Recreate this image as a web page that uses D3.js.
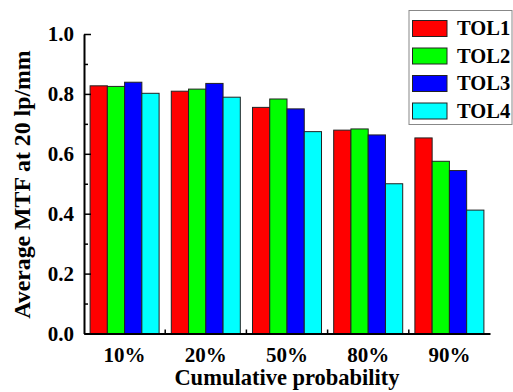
<!DOCTYPE html>
<html>
<head>
<meta charset="utf-8">
<script src="https://cdn.jsdelivr.net/npm/d3@7"></script>
<style>
  html, body { margin: 0; padding: 0; background: #fff; }
  svg { display: block; }
  text { font-family: "Liberation Serif", "Times New Roman", serif; font-weight: bold; fill: #000; }
</style>
</head>
<body>
<svg id="chart" width="513" height="392"></svg>
<script>
// Cumulative-probability groups and average MTF per tolerance set
const categories = ["10%", "20%", "50%", "80%", "90%"];
const seriesNames = ["TOL1", "TOL2", "TOL3", "TOL4"];
const tol1 = [0.827, 0.809, 0.755, 0.679, 0.653];
const tol2 = [0.825, 0.816, 0.783, 0.683, 0.575];
const tol3 = [0.839, 0.835, 0.750, 0.663, 0.544];
const tol4 = [0.802, 0.789, 0.674, 0.500, 0.412];
const seriesColors = ["#ff0000", "#00ff00", "#0000ff", "#00ffff"];
const yTicks = [0.0, 0.2, 0.4, 0.6, 0.8, 1.0];
const yMinorTicks = [0.1, 0.3, 0.5, 0.7, 0.9];

const series = [tol1, tol2, tol3, tol4];

const svg = d3.select("#chart");
const plot = { left: 84, right: 490, top: 34, bottom: 333.5 };

const x0 = d3.scaleBand().domain(categories).range([plot.left, plot.right])
  .paddingInner(0.15).paddingOuter(0.075);
const x1 = d3.scaleBand().domain(seriesNames).range([0, x0.bandwidth()]);
const y = d3.scaleLinear().domain([0, 1]).range([plot.bottom, plot.top]);

// Bars
const groups = svg.append("g").selectAll("g")
  .data(categories)
  .join("g")
  .attr("transform", d => `translate(${x0(d)},0)`);

groups.selectAll("rect")
  .data((c, i) => seriesNames.map((s, k) => ({ s, k, v: series[k][i] })))
  .join("rect")
  .attr("x", d => x1(d.s))
  .attr("y", d => y(d.v))
  .attr("width", x1.bandwidth())
  .attr("height", d => y(0) - y(d.v))
  .attr("fill", d => seriesColors[d.k])
  .attr("stroke", "#222")
  .attr("stroke-width", 1);

// Y axis with inward ticks
const yAxis = d3.axisLeft(y).tickValues(yTicks).tickFormat(d3.format(".1f"))
  .tickSizeInner(-7).tickSizeOuter(0).tickPadding(10);
const yg = svg.append("g").attr("transform", `translate(${plot.left},0)`).call(yAxis);
yg.select(".domain").attr("stroke", "#000").attr("stroke-width", 2);
yg.selectAll(".tick line").attr("stroke", "#000").attr("stroke-width", 1.5);
yg.selectAll(".tick text").attr("font-size", 21).attr("x", -10)
  .style("font-family", "Liberation Serif, serif").style("font-weight", "bold");

const yMinor = d3.axisLeft(y).tickValues(yMinorTicks).tickFormat("")
  .tickSizeInner(-4).tickSizeOuter(0);
const ym = svg.append("g").attr("transform", `translate(${plot.left},0)`).call(yMinor);
ym.select(".domain").remove();
ym.selectAll(".tick line").attr("stroke", "#000").attr("stroke-width", 1.5);

// X axis: labels at group centres, small ticks between groups
const xAxis = d3.axisBottom(x0).tickSize(0).tickPadding(14);
const xg = svg.append("g").attr("transform", `translate(0,${plot.bottom})`).call(xAxis);
xg.select(".domain").attr("stroke", "#000").attr("stroke-width", 2);
xg.selectAll(".tick text").attr("font-size", 21)
  .style("font-family", "Liberation Serif, serif").style("font-weight", "bold");

const step = x0.step();
const boundaries = categories.slice(1).map(c => x0(c) - step * x0.paddingInner() / 2);
svg.append("g").selectAll("line")
  .data(boundaries)
  .join("line")
  .attr("x1", d => d).attr("x2", d => d)
  .attr("y1", plot.bottom).attr("y2", plot.bottom - 4)
  .attr("stroke", "#000").attr("stroke-width", 1.5);

// Axis titles
svg.append("text")
  .attr("x", (plot.left + plot.right) / 2)
  .attr("y", 385)
  .attr("text-anchor", "middle")
  .attr("font-size", 22.5)
  .text("Cumulative probability");

svg.append("text")
  .attr("transform", `translate(30,184.5) rotate(-90)`)
  .attr("text-anchor", "middle")
  .attr("font-size", 23.8)
  .text("Average MTF at 20 lp/mm");

// Legend
const legend = svg.append("g");
legend.append("rect")
  .attr("x", 409).attr("y", 10.5).attr("width", 103).attr("height", 114)
  .attr("fill", "#fff").attr("stroke", "#888").attr("stroke-width", 1);

const rows = legend.selectAll("g.row")
  .data(seriesNames)
  .join("g")
  .attr("class", "row")
  .attr("transform", (d, i) => `translate(0,${20.5 + i * 27.5})`);
rows.append("rect")
  .attr("x", 412.5).attr("y", 0).attr("width", 34.5).attr("height", 16)
  .attr("fill", (d, i) => seriesColors[i])
  .attr("stroke", "#222").attr("stroke-width", 1);
rows.append("text")
  .attr("x", 457).attr("y", 14.5)
  .attr("font-size", 20.5)
  .text(d => d);
</script>
</body>
</html>
